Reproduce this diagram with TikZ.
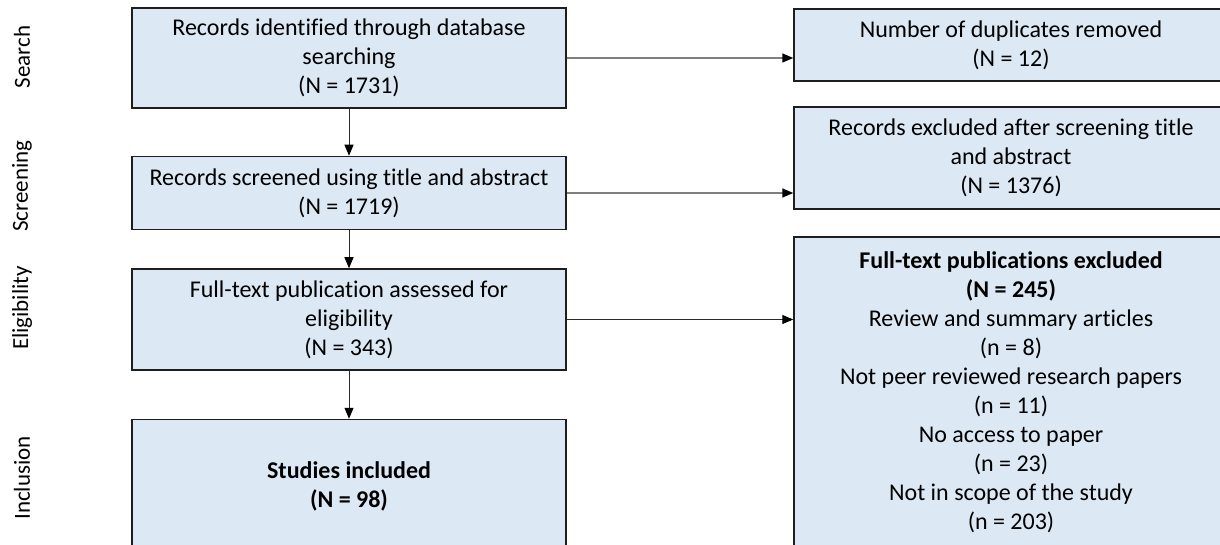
\documentclass[tikz,border=0pt]{standalone}
\usepackage{fontspec}
\setmainfont{Carlito}[Ligatures=NoCommon]
\usepackage{xcolor}
\usepackage{tikz}
\usetikzlibrary{arrows.meta,positioning,calc}
\definecolor{boxfill}{HTML}{DDE8F5}
\definecolor{boxline}{HTML}{1E1E1E}
\definecolor{arrgray}{HTML}{7F7F7F}
\definecolor{arrdark}{HTML}{2B2B2B}

\begin{document}
\begin{tikzpicture}[x=1pt,y=-1pt,every node/.style={font=\fontsize{24}{29}\selectfont,text=black},box/.style={draw=boxline,line width=1.5pt,fill=boxfill,align=center,minimum width=434pt,inner sep=2pt},phase/.style={rotate=90,font=\fontsize{23}{28}\selectfont},arr/.style={-{Triangle[length=11pt,width=9pt,color=black]},line width=1pt,draw=arrdark},arrg/.style={arr,line width=1.5pt,draw=arrgray}]
\useasboundingbox (0,0) rectangle (1220,545);
\clip (0,0) rectangle (1220,545);
% left column
\node[box,minimum height=100pt] (ident) at (349,58) {Records identified through database\\searching\\(N = 1731)};
\node[box,minimum height=73pt,below=47pt of ident] (screen) {Records screened using title and abstract\\(N = 1719)};
\node[box,minimum height=101pt,below=38pt of screen] (elig) {Full-text publication assessed for\\eligibility\\(N = 343)};
\node[box,minimum height=134pt,below=48pt of elig] (incl) {\textbf{Studies included}\\\textbf{(N = 98)}};
% right column
\node[box,minimum height=72pt] (dup) at (1011,45) {Number of duplicates removed\\(N = 12)};
\node[box,minimum height=102pt] (excl) at (1011,158) {Records excluded after screening title\\and abstract\\(N = 1376)};
\node[box,minimum height=310pt] (ftex) at (1011,392) {\textbf{Full-text publications excluded}\\\textbf{(N = 245)}\\Review and summary articles\\(n = 8)\\Not peer reviewed research papers\\(n = 11)\\No access to paper\\(n = 23)\\Not in scope of the study\\(n = 203)};
% phases
\node[phase] (ph1) at (22,57) {Search};
\node[phase] (ph2) at (22,186) {Screening};
\node[phase] (ph3) at (22,308) {Eligibility};
\node[phase] (ph4) at (22,478) {Inclusion};
% flow
\draw[arr] (ident) -- (screen);\draw[arr] (screen) -- (elig);\draw[arr] (elig) -- (incl);
\draw[arrg] (ident.east) -- (ident.east -| dup.west);
\draw[arrg] (screen.east) -- (screen.east -| excl.west);
\draw[arr] (elig.east) -- (elig.east -| ftex.west);
\end{tikzpicture}
\end{document}
